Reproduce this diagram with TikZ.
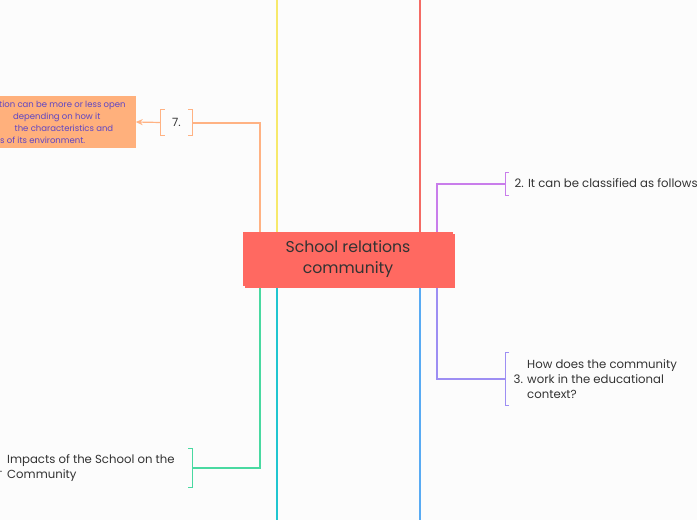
\documentclass[tikz,border=0pt]{standalone}
\usepackage{fontspec}
\setmainfont{Poppins}
\usetikzlibrary{arrows.meta,calc,shadows}
\definecolor{bg}{HTML}{FCFCFC}
\definecolor{cyel}{HTML}{F7E96B}
\definecolor{cred}{HTML}{F46B65}
\definecolor{cora}{HTML}{FFB283}
\definecolor{oboxc}{HTML}{FFB07C}
\definecolor{cpur}{HTML}{C97DEB}
\definecolor{clav}{HTML}{9D8EF3}
\definecolor{cgrn}{HTML}{49D9A1}
\definecolor{cteal}{HTML}{20C6D0}
\definecolor{cblue}{HTML}{59ABF3}
\definecolor{boxred}{HTML}{FF6961}
\definecolor{txt}{HTML}{333333}
\definecolor{otxt}{HTML}{5E45C4}
\begin{document}
\begin{tikzpicture}[x=1pt,y=-1pt,
  branch/.style={line width=2pt},
  brk/.style={line width=0.9pt},
  lbl/.style={text=txt,font=\fontsize{11.7}{15}\selectfont,inner sep=0pt},
  otext/.style={text=otxt,font=\fontsize{8.5}{12}\selectfont,inner sep=0pt,anchor=base west}]
\fill[bg] (0,0) rectangle (697,520);
\useasboundingbox (0,0) rectangle (697,520);
\begin{scope}
\clip (0,0) rectangle (697,520);
% central node
\node[fill=boxred,minimum width=210pt,minimum height=54pt,inner sep=0pt,
  text=txt,align=center,font=\fontsize{15.7}{21}\selectfont,
  copy shadow={shadow xshift=2pt,shadow yshift=-2pt,fill=boxred,draw=none}]
  (c) at (348,259) {\raisebox{-2pt}{\parbox{200pt}{\centering School relations\\community}}};
% long vertical lines
\coordinate (ty) at (277,0);
\coordinate (tr) at (420,0);
\coordinate (bt) at (277,520);
\coordinate (bb) at (420,520);
\draw[branch,cyel] (ty) -- (ty |- c.north);
\draw[branch,cred] (tr) -- (tr |- c.north);
\draw[branch,cteal] (bt) -- ($(bt |- c.south)+(0,2)$);
\draw[branch,cblue] (bb) -- ($(bb |- c.south)+(0,2)$);
% orange branch
\node[minimum width=31pt,minimum height=25pt,inner sep=0pt,text=txt,font=\fontsize{11.4}{12}\selectfont] (b7) at (176.5,122.5) {7.};
\draw[brk,cora] ($(b7.north west)+(4,0)$) -- (b7.north west) -- (b7.south west) -- ($(b7.south west)+(4,0)$);
\draw[brk,cora] ($(b7.north east)+(-4,0)$) -- (b7.north east) -- (b7.south east) -- ($(b7.south east)+(-4,0)$);
\coordinate (oc) at (260,259);
\draw[branch,cora] (b7.east) -| (oc |- c.north);
\node[fill=oboxc,minimum width=140pt,minimum height=52pt,inner sep=0pt] (ob) at (65.5,122) {};
\draw[line width=1.2pt,cora,-{Stealth[length=7pt,width=6pt]}] (b7.west) -- (ob.east);
\node[otext] (o1) at (-1,107) {tion can be more or less open};
\node[otext] (o2) at (13,119) {depending on how it};
\node[otext] (o3) at (14.5,131) {the characteristics and};
\node[otext] (o4) at (0,143) {s of its environment.};
% purple branch
\node[lbl,anchor=west] (t2) at (514.5,183.5) {2. It can be classified as follows};
\coordinate (bp) at (505,183.5);
\draw[brk,cpur] (509,172) -- (505,172) -- (505,195) -- (509,195);
\coordinate (pc) at (437,259);
\draw[branch,cpur] (pc |- c.north) |- (bp);
% lavender branch
\node[lbl,anchor=west] (n3) at (513.5,379) {3.};
\node[lbl,anchor=west,align=left] (t3) at (527,379) {How does the community\\work in the educational\\context?};
\coordinate (bl) at (505,378.5);
\draw[brk,clav] (509,352) -- (505,352) -- (505,405) -- (509,405);
\draw[branch,clav] ($(pc |- c.south)+(0,2)$) |- (bl);
% green branch
\coordinate (bg) at (192,467.5);
\draw[brk,cgrn] (188,448) -- (192,448) -- (192,487) -- (188,487);
\draw[branch,cgrn] ($(oc |- c.south)+(0,2)$) |- (bg);
\node[lbl,anchor=west] (n2) at (-7,468) {2.};
\node[lbl,anchor=west,align=left] (tg) at (7,468.5) {Impacts of the School on the\\Community};
\end{scope}
\end{tikzpicture}
\end{document}
